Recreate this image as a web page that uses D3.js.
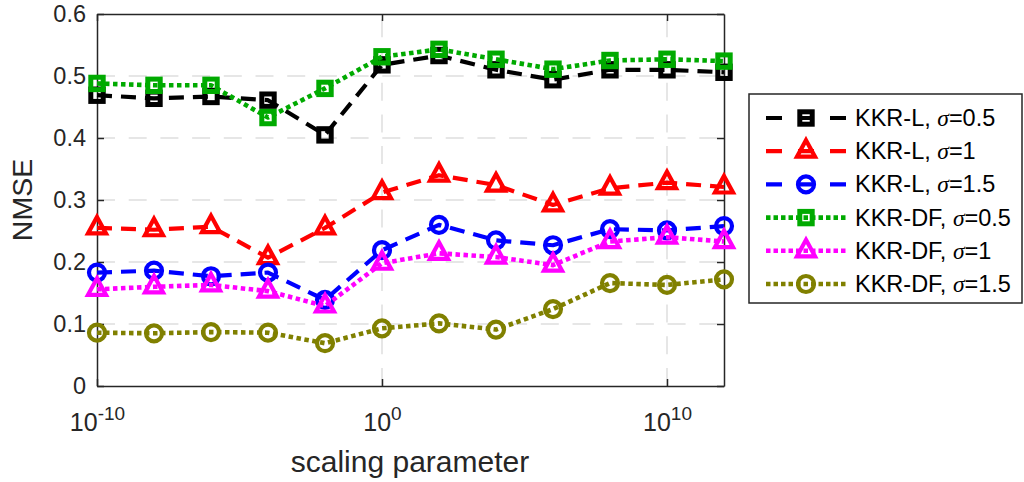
<!DOCTYPE html>
<html>
<head>
<meta charset="utf-8">
<script src="https://cdn.jsdelivr.net/npm/d3@7"></script>
<style>
  html, body { margin: 0; padding: 0; background: #fff; }
  svg { display: block; font-family: "Liberation Sans", Arial, Helvetica, sans-serif; }
</style>
</head>
<body>
<svg id="chart" width="1024" height="482"></svg>
<script>
// Scaling parameter values (log-spaced, every two decades)
const scaleParam = [1e-10, 1e-8, 1e-6, 1e-4, 1e-2, 1e0, 1e2, 1e4, 1e6, 1e8, 1e10, 1e12];

// NMSE per method
const kkrL_s05  = [0.469, 0.464, 0.467, 0.461, 0.405, 0.518, 0.533, 0.510, 0.494, 0.510, 0.510, 0.506];
const kkrL_s1   = [0.255, 0.252, 0.257, 0.207, 0.255, 0.312, 0.340, 0.324, 0.292, 0.319, 0.328, 0.321];
const kkrL_s15  = [0.183, 0.186, 0.177, 0.183, 0.139, 0.219, 0.260, 0.235, 0.227, 0.253, 0.251, 0.258];
const kkrDF_s05 = [0.488, 0.485, 0.485, 0.433, 0.480, 0.531, 0.543, 0.527, 0.511, 0.525, 0.527, 0.524];
const kkrDF_s1  = [0.156, 0.160, 0.163, 0.153, 0.129, 0.198, 0.214, 0.208, 0.195, 0.233, 0.240, 0.233];
const kkrDF_s15 = [0.086, 0.085, 0.087, 0.086, 0.069, 0.093, 0.101, 0.091, 0.124, 0.166, 0.163, 0.172];

// Legend entries: method name and sigma value
const methodNames = ["KKR-L", "KKR-L", "KKR-L", "KKR-DF", "KKR-DF", "KKR-DF"];
const sigmaLabels = ["0.5", "1", "1.5", "0.5", "1", "1.5"];

// Axis ticks
const xTickValues = [1e-10, 1e0, 1e10];
const xTickExponents = ["-10", "0", "10"];
const yTickValues = [0, 0.1, 0.2, 0.3, 0.4, 0.5, 0.6];

const seriesValues = [kkrL_s05, kkrL_s1, kkrL_s15, kkrDF_s05, kkrDF_s1, kkrDF_s15];
const seriesStyle = [
  { color: "#000000", dash: "15,9",  marker: "square" },
  { color: "#ff0000", dash: "15,9",  marker: "triangle" },
  { color: "#0000ff", dash: "15,9",  marker: "circle" },
  { color: "#00aa00", dash: "4.5,3.5", marker: "square" },
  { color: "#ff00ff", dash: "4.5,3.5", marker: "triangle" },
  { color: "#808000", dash: "4.5,3.5", marker: "circle" }
];

const svg = d3.select("#chart");
const plot = { left: 97, right: 724, top: 14, bottom: 386 };
const axisColor = "#262626";

const x = d3.scaleLog().domain([1e-10, 1e12]).range([plot.left, plot.right]);
const y = d3.scaleLinear().domain([0, 0.6]).range([plot.bottom, plot.top]);

// Grid lines
const grid = svg.append("g").attr("class", "grid")
  .attr("stroke", "#dedede").attr("stroke-width", 1.5).attr("fill", "none");
grid.selectAll("line.h").data(yTickValues.filter(v => v > 0 && v < 0.6)).join("line")
  .attr("class", "h")
  .attr("x1", plot.left).attr("x2", plot.right)
  .attr("y1", d => y(d)).attr("y2", d => y(d))
  .attr("stroke-dasharray", "18,13.7");
grid.selectAll("line.v").data(xTickValues.filter(v => v > 1e-10)).join("line")
  .attr("class", "v")
  .attr("x1", d => x(d)).attr("x2", d => x(d))
  .attr("y1", plot.bottom).attr("y2", plot.top)
  .attr("stroke-dasharray", "18,13.7");

// Axes (ticks drawn inward, box on all four sides)
function styleAxis(g) {
  g.select(".domain").attr("stroke", axisColor).attr("stroke-width", 1.5);
  g.selectAll(".tick line").attr("stroke", axisColor).attr("stroke-width", 1.5);
}

const gBottom = svg.append("g")
  .attr("transform", `translate(0,${plot.bottom})`)
  .call(d3.axisBottom(x).tickValues(xTickValues).tickSize(-7).tickSizeOuter(0).tickFormat(() => ""))
  .call(styleAxis);

gBottom.selectAll(".tick text").remove();
gBottom.selectAll(".tick").each(function(d, i) {
  const t = d3.select(this).append("text")
    .attr("y", 45)
    .attr("text-anchor", "middle")
    .attr("fill", axisColor)
    .attr("font-size", 25);
  t.append("tspan").text("10");
  t.append("tspan").attr("font-size", 19).attr("dy", -11).text(xTickExponents[i]);
});

svg.append("g")
  .attr("transform", `translate(0,${plot.top})`)
  .call(d3.axisTop(x).tickValues(xTickValues).tickSize(-7).tickSizeOuter(0).tickFormat(() => ""))
  .call(styleAxis);

svg.append("g")
  .attr("transform", `translate(${plot.left},0)`)
  .call(d3.axisLeft(y).tickValues(yTickValues).tickSize(-7).tickSizeOuter(0).tickPadding(11)
    .tickFormat(d => d === 0 ? "0" : d.toFixed(1)))
  .call(styleAxis)
  .call(g => g.selectAll(".tick text")
    .attr("font-size", 23.5).attr("fill", axisColor)
    .attr("font-family", "Liberation Sans, Arial, sans-serif"));

svg.append("g")
  .attr("transform", `translate(${plot.right},0)`)
  .call(d3.axisRight(y).tickValues(yTickValues).tickSize(-7).tickSizeOuter(0).tickFormat(() => ""))
  .call(styleAxis);

// Axis labels
svg.append("text")
  .attr("x", 410).attr("y", 472)
  .attr("text-anchor", "middle").attr("font-size", 30).attr("fill", axisColor)
  .text("scaling parameter");

svg.append("text")
  .attr("transform", `translate(32,${(plot.top + plot.bottom) / 2}) rotate(-90)`)
  .attr("text-anchor", "middle").attr("font-size", 28.5).attr("fill", axisColor)
  .text("NMSE");

// Marker drawing
function drawMarker(sel, kind, color) {
  if (kind === "square") {
    sel.append("rect")
      .attr("x", -6.2).attr("y", -6.2).attr("width", 12.4).attr("height", 12.4)
      .attr("fill", "none").attr("stroke", color).attr("stroke-width", 5);
  } else if (kind === "circle") {
    sel.append("circle").attr("r", 8)
      .attr("fill", "none").attr("stroke", color).attr("stroke-width", 4.2);
  } else {
    // upward triangle, centroid at the data point
    sel.append("path")
      .attr("d", "M0,-11 L9,5.5 L-9,5.5 Z")
      .attr("fill", "none").attr("stroke", color).attr("stroke-width", 4.2)
      .attr("stroke-linejoin", "miter");
  }
}

const line = d3.line().x(d => x(d[0])).y(d => y(d[1]));

const plotArea = svg.append("g").attr("class", "series");
seriesValues.forEach((vals, si) => {
  const st = seriesStyle[si];
  const pts = scaleParam.map((p, i) => [p, vals[i]]);
  const g = plotArea.append("g");
  g.append("path")
    .attr("d", line(pts))
    .attr("fill", "none")
    .attr("stroke", st.color)
    .attr("stroke-width", si < 3 ? 4.2 : 4.6)
    .attr("stroke-dasharray", st.dash)
    .attr("stroke-linejoin", "round");
  g.selectAll("g.mk").data(pts).join("g")
    .attr("class", "mk")
    .attr("transform", d => `translate(${x(d[0])},${y(d[1])})`)
    .each(function() { drawMarker(d3.select(this), st.marker, st.color); });
});

// Legend
const legend = svg.append("g").attr("class", "legend");
legend.append("rect")
  .attr("x", 749).attr("y", 94).attr("width", 273).attr("height", 209)
  .attr("fill", "#fff").attr("stroke", axisColor).attr("stroke-width", 1.5);

const rowY = d3.scaleLinear().domain([0, 5]).range([118, 284]);
seriesStyle.forEach((st, i) => {
  const cy = rowY(i);
  const row = legend.append("g");
  row.append("line")
    .attr("x1", 766).attr("x2", 846).attr("y1", cy).attr("y2", cy)
    .attr("stroke", st.color).attr("stroke-width", i < 3 ? 4.2 : 4.6)
    .attr("stroke-dasharray", i < 3 ? "16,16" : "4.5,3");
  const mk = row.append("g").attr("transform", `translate(806,${cy})`);
  drawMarker(mk, st.marker, st.color);
  const t = row.append("text")
    .attr("x", 855).attr("y", cy + 8)
    .attr("font-size", 23.5).attr("fill", "#000");
  t.append("tspan").text(methodNames[i] + ", ");
  t.append("tspan").attr("font-family", "Liberation Serif, Times New Roman, serif")
    .attr("font-style", "italic").text("σ");
  t.append("tspan").text("=" + sigmaLabels[i]);
});
</script>
</body>
</html>
